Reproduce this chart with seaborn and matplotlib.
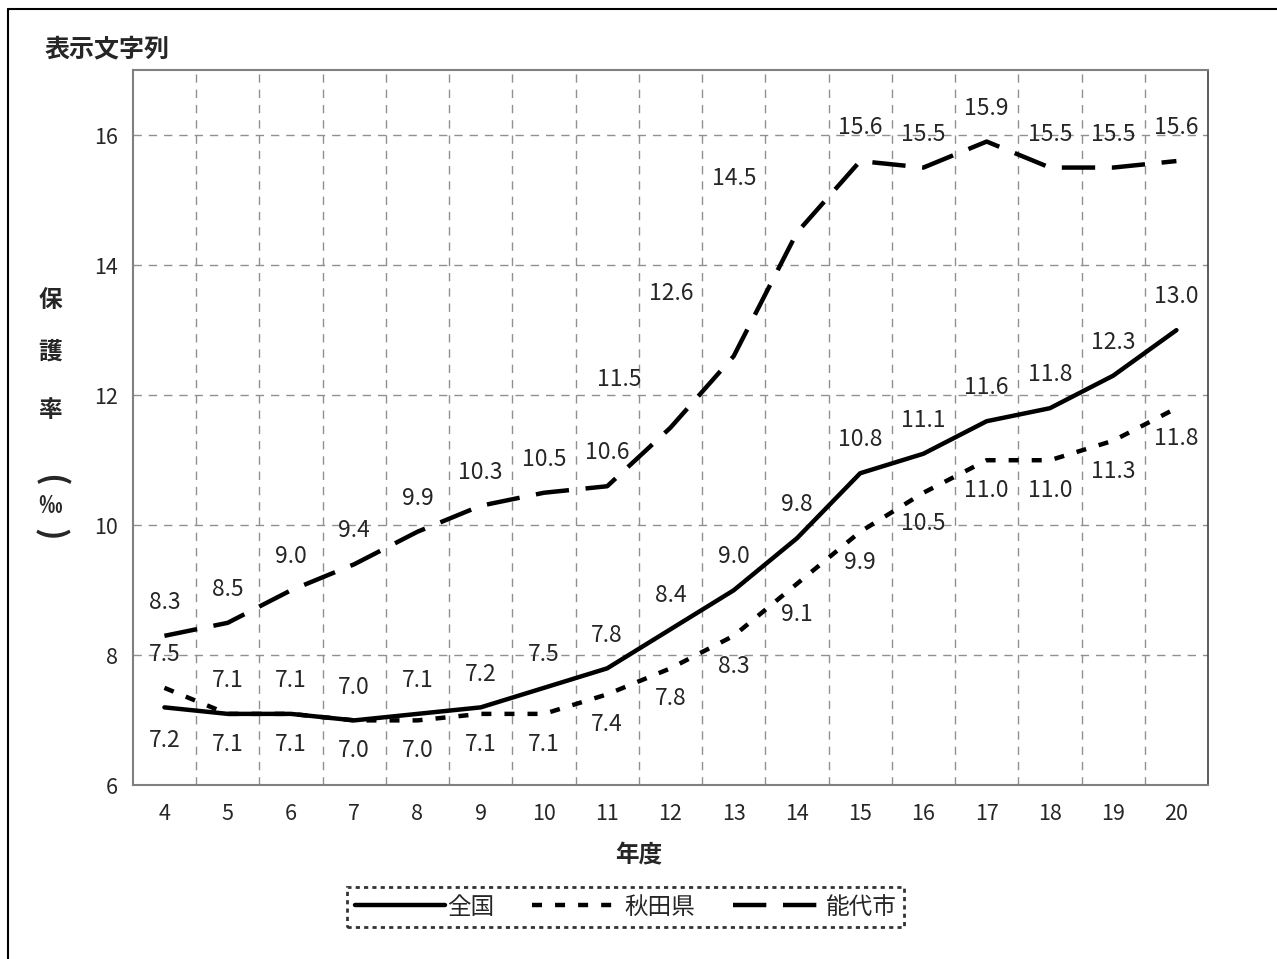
import numpy as np
import pandas as pd
import matplotlib
matplotlib.use("Agg")
import matplotlib.pyplot as plt
import matplotlib.lines as mlines
from matplotlib.ticker import MultipleLocator
import seaborn as sns

# data
years = [4, 5, 6, 7, 8, 9, 10, 11, 12, 13, 14, 15, 16, 17, 18, 19, 20]
zenkoku = [7.2, 7.1, 7.1, 7.0, 7.1, 7.2, 7.5, 7.8, 8.4, 9.0, 9.8, 10.8, 11.1, 11.6, 11.8, 12.3, 13.0]
akita = [7.5, 7.1, 7.1, 7.0, 7.0, 7.1, 7.1, 7.4, 7.8, 8.3, 9.1, 9.9, 10.5, 11.0, 11.0, 11.3, 11.8]
noshiro = [8.3, 8.5, 9.0, 9.4, 9.9, 10.3, 10.5, 10.6, 11.5, 12.6, 14.5, 15.6, 15.5, 15.9, 15.5, 15.5, 15.6]
series_names = ["全国", "秋田県", "能代市"]

df = pd.DataFrame({
    "年度": years * 3,
    "保護率": zenkoku + akita + noshiro,
    "区分": [series_names[0]] * len(years) + [series_names[1]] * len(years) + [series_names[2]] * len(years),
})

sns.set_style("white")
plt.rcParams['font.family'] = ['Noto Sans CJK JP', 'DejaVu Sans']
plt.rcParams['lines.scale_dashes'] = False

fig = plt.figure(figsize=(12.77, 9.59), dpi=100)
ax = fig.add_axes([0.104, 0.181, 0.842, 0.746])

dash_styles = ["", (7.2, 9.4), (24, 12)]
sns.lineplot(data=df, x="年度", y="保護率", hue="区分", style="区分",
             palette=["black"] * 3, dashes=dash_styles, linewidth=3.2,
             legend=False, ax=ax)

ax.set_xlim(3.5, 20.5)
ax.set_ylim(6, 17)
ax.set_xticks(years)
ax.set_xticklabels([str(y) for y in years])
ax.xaxis.set_minor_locator(MultipleLocator(0.5))
ax.yaxis.set_major_locator(MultipleLocator(2))
ax.yaxis.set_minor_locator(MultipleLocator(0.4))
ax.tick_params(axis='both', which='major', labelsize=15.5, direction='out', length=7, color='#808080', width=1.2)
ax.tick_params(axis='x', which='major', pad=6)
ax.tick_params(axis='x', which='minor', direction='out', length=7, color='#808080', width=1.2)
ax.tick_params(axis='y', which='minor', direction='in', length=6, color='#808080', width=1.2)
ax.set_xlabel("")
ax.set_ylabel("")

# grid: vertical at category boundaries, horizontal at majors
for xb in np.arange(4.5, 20.5, 1.0):
    ax.axvline(xb, color='#909090', lw=1, ls=(0, (6, 5)), zorder=0)
ax.yaxis.grid(True, which='major', color='#909090', lw=1, ls=(0, (6, 5)))
ax.set_axisbelow(True)

for side in ["left", "bottom", "top"]:
    ax.spines[side].set_color('#808080')
    ax.spines[side].set_linewidth(1.5)
ax.spines["right"].set_color('#404040')
ax.spines["right"].set_linewidth(1.2)

# data labels (offsets in points)
zen_off = [(0, -24)] + [(0, 24)] * 16
aki_off = [(0, 24)] + [(0, -22)] * 16
nos_off = [(0, 24)] * 8 + [(-37, 35), (-45, 45), (-45, 39)] + [(0, 24)] * 6
for vals, offs in [(zenkoku, zen_off), (akita, aki_off), (noshiro, nos_off)]:
    for x, v, o in zip(years, vals, offs):
        ax.annotate(f"{v:.1f}", (x, v), xytext=o, textcoords='offset points',
                    ha='center', va='center', fontsize=16.5)

fig.text(0.035, 0.948, "表示文字列", fontsize=18, fontweight='bold', ha='left', va='center')
fig.text(0.50, 0.108, "年度", fontsize=17, fontweight='bold', ha='center', va='center')

# vertical y label
ylab_chars = ["保", "護", "率", "‰"]
ylab_pos = [300, 352, 410, 506]
for ch, yp in zip(ylab_chars, ylab_pos):
    fig.text(50 / 1277, 1 - yp / 959, ch, fontsize=17, fontweight='bold', ha='center', va='center')
for ch, yp in [("(", 480), (")", 534)]:
    fig.text(50 / 1277, 1 - yp / 959, ch, fontsize=24, fontweight='bold', ha='center', va='center', rotation=-90)

handles = [mlines.Line2D([], [], color='black', lw=3.2, dashes=d) if d else
           mlines.Line2D([], [], color='black', lw=3.2) for d in dash_styles]
leg = fig.legend(handles, series_names, loc='center', bbox_to_anchor=(0.49, 0.054),
                 ncol=3, fontsize=17, frameon=True, handlelength=3.8, handletextpad=0.1,
                 columnspacing=1.6, borderpad=0.35, fancybox=False)
frame = leg.get_frame()
frame.set_edgecolor('black')
frame.set_linewidth(2)
frame.set_linestyle((0, (3, 3)))

# border at left and top
fig.add_artist(mlines.Line2D([8 / 1277, 8 / 1277], [0, 1 - 9 / 959], color='black', lw=1.5, transform=fig.transFigure))
fig.add_artist(mlines.Line2D([8 / 1277, 1], [1 - 9 / 959, 1 - 9 / 959], color='black', lw=1.5, transform=fig.transFigure))

fig.savefig("out.png", dpi=100)
